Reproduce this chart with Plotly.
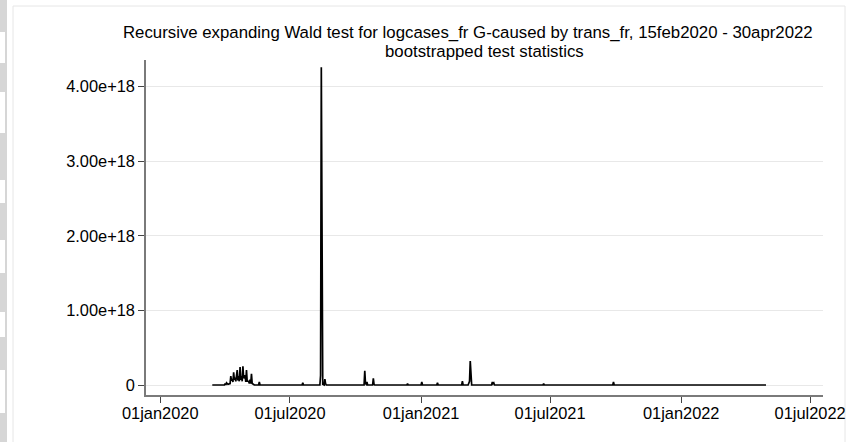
import plotly.graph_objects as go

# ---- data (values in units of 1e18) ----
dates = [
    "2020-03-14", "2020-03-31", "2020-04-01", "2020-04-02", "2020-04-03", "2020-04-05",
    "2020-04-08", "2020-04-09", "2020-04-10", "2020-04-11", "2020-04-12", "2020-04-13",
    "2020-04-14", "2020-04-15", "2020-04-16", "2020-04-18", "2020-04-19", "2020-04-20",
    "2020-04-21", "2020-04-22", "2020-04-23", "2020-04-24", "2020-04-25", "2020-04-26",
    "2020-04-27", "2020-04-29", "2020-04-30", "2020-05-01", "2020-05-02", "2020-05-04",
    "2020-05-05", "2020-05-06", "2020-05-07", "2020-05-08", "2020-05-09", "2020-05-11",
    "2020-05-12", "2020-05-18", "2020-05-19", "2020-05-20", "2020-07-18", "2020-07-19",
    "2020-07-20", "2020-08-12", "2020-08-13", "2020-08-14", "2020-08-15", "2020-08-16",
    "2020-08-18", "2020-08-19", "2020-08-20", "2020-08-21", "2020-10-13", "2020-10-14",
    "2020-10-15", "2020-10-16", "2020-10-17", "2020-10-18", "2020-10-25", "2020-10-26",
    "2020-10-27", "2020-10-28", "2020-12-12", "2020-12-13", "2020-12-14", "2021-01-01",
    "2021-01-02", "2021-01-03", "2021-01-23", "2021-01-24", "2021-01-25", "2021-02-27",
    "2021-02-28", "2021-03-01", "2021-03-08", "2021-03-09", "2021-03-10", "2021-03-11",
    "2021-03-12", "2021-03-13", "2021-04-10", "2021-04-11", "2021-04-12", "2021-04-13",
    "2021-04-14", "2021-06-21", "2021-06-22", "2021-06-23", "2021-09-27", "2021-09-28",
    "2021-09-29", "2021-12-01", "2021-12-02", "2021-12-03", "2022-04-30",
]
values_e18 = [
    0.0, 0.0, 0.02, 0.0, 0.03, 0.01,
    0.02, 0.12, 0.06, 0.08, 0.04, 0.17,
    0.07, 0.10, 0.05, 0.20, 0.06, 0.12,
    0.05, 0.24, 0.07, 0.12, 0.05, 0.25,
    0.09, 0.13, 0.04, 0.20, 0.05, 0.05,
    0.02, 0.07, 0.02, 0.15, 0.02, 0.01,
    0.0, 0.0, 0.04, 0.0, 0.0, 0.03,
    0.0, 0.0, 0.13, 4.26, 0.10, 0.01,
    0.0, 0.08, 0.02, 0.0, 0.0, 0.19,
    0.02, 0.01, 0.04, 0.0, 0.0, 0.09,
    0.01, 0.0, 0.0, 0.02, 0.0, 0.0,
    0.04, 0.0, 0.0, 0.03, 0.0, 0.0,
    0.05, 0.0, 0.0, 0.03, 0.05, 0.32,
    0.02, 0.0, 0.0, 0.04, 0.02, 0.03,
    0.0, 0.0, 0.02, 0.0, 0.0, 0.04,
    0.0, 0.0, 0.01, 0.0, 0.0,
]
values = [v * 1e18 for v in values_e18]

x_tickvals = ["2020-01-01", "2020-07-01", "2021-01-01", "2021-07-01", "2022-01-01", "2022-07-01"]
x_ticktext = ["01jan2020", "01jul2020", "01jan2021", "01jul2021", "01jan2022", "01jul2022"]
y_tickvals = [0, 1e18, 2e18, 3e18, 4e18]
y_ticktext = ["0", "1.00e+18", "2.00e+18", "3.00e+18", "4.00e+18"]

title1 = "Recursive expanding Wald test for logcases_fr G-caused by trans_fr, 15feb2020 - 30apr2022"
title2 = "bootstrapped test statistics"

# ---- layout geometry ----
W, H = 857, 442
L, R, T, B = 146, 34, 60, 47
PW, PH = W - L - R, H - T - B


def px(x):
    return (x - L) / PW


def py(y):
    return 1 - (y - T) / PH


FONT = "Liberation Sans, Arial, Helvetica, sans-serif"
TICKFONT = dict(family=FONT, size=16.4, color="#000000")
TITLEFONT = dict(family=FONT, size=16.8, color="#000000")

fig = go.Figure()
fig.add_trace(go.Scatter(
    x=dates, y=values, mode="lines",
    line=dict(color="#000000", width=1.7),
    hoverinfo="skip", showlegend=False,
))

shapes = []
# outer panel border
shapes.append(dict(type="rect", xref="paper", yref="paper",
                   x0=px(13), x1=px(845), y0=py(446), y1=py(6),
                   line=dict(color="#e6e6e6", width=1), fillcolor="rgba(0,0,0,0)", layer="below"))
# left gray strip
shapes.append(dict(type="rect", xref="paper", yref="paper",
                   x0=px(0), x1=px(7), y0=py(442), y1=py(0),
                   line=dict(width=0), fillcolor="#d6d6d6", layer="below"))
for (a, b) in [(32, 63), (92, 133), (180, 203), (240, 273), (312, 337), (370, 413)]:
    shapes.append(dict(type="rect", xref="paper", yref="paper",
                       x0=px(0), x1=px(5), y0=py(b), y1=py(a),
                       line=dict(width=0), fillcolor="#ffffff", layer="below"))

fig.update_layout(
    width=W, height=H,
    margin=dict(l=L, r=R, t=T, b=B, pad=0),
    paper_bgcolor="#ffffff", plot_bgcolor="#ffffff",
    font=dict(family=FONT, size=16, color="#000000"),
    shapes=shapes,
    annotations=[
        dict(text=title1, xref="paper", yref="paper", x=px(468), y=py(32),
             showarrow=False, xanchor="center", yanchor="middle", font=TITLEFONT),
        dict(text=title2, xref="paper", yref="paper", x=px(484.5), y=py(51),
             showarrow=False, xanchor="center", yanchor="middle", font=TITLEFONT),
    ],
    xaxis=dict(
        type="date",
        range=["2019-12-12", "2022-07-19"],
        tickmode="array", tickvals=x_tickvals, ticktext=x_ticktext,
        showgrid=False, zeroline=False,
        showline=True, linecolor="#7a7a7a", linewidth=1.5,
        ticks="outside", ticklen=6, tickcolor="#444444", tickwidth=1,
        ticklabelstandoff=-3,
        tickfont=TICKFONT,
    ),
    yaxis=dict(
        range=[-0.134e18, 4.357e18],
        tickmode="array", tickvals=y_tickvals, ticktext=y_ticktext,
        showgrid=True, gridcolor="#e8e8e8", gridwidth=1,
        zeroline=False,
        showline=True, linecolor="#7a7a7a", linewidth=1.5,
        ticks="outside", ticklen=6, tickcolor="#444444", tickwidth=1,
        tickfont=TICKFONT,
    ),
)

fig.write_html("out.html", config={"displayModeBar": False},
               post_script="document.body.style.margin='0';")
